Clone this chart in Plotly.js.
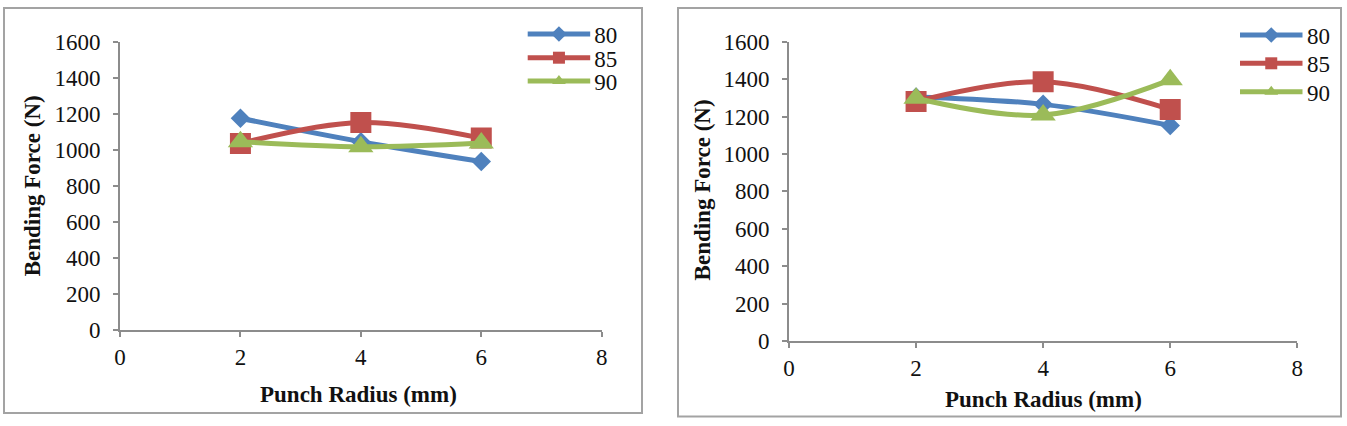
<!DOCTYPE html>
<html>
<head>
<meta charset="utf-8">
<script src="https://cdn.plot.ly/plotly-3.0.1.min.js"></script>
<style>
html, body { margin: 0; padding: 0; background: #ffffff; }
#chart { width: 1347px; height: 426px; }
</style>
</head>
<body>
<div id="chart"></div>
<script>
// ---- data ----
const punchRadius = [2, 4, 6];
const seriesNames = ['80', '85', '90'];
const xTicks = [0, 2, 4, 6, 8];
const yTicks = [0, 200, 400, 600, 800, 1000, 1200, 1400, 1600];
const xTitle = 'Punch Radius (mm)';
const yTitle = 'Bending Force (N)';

const leftForce80 = [1175, 1045, 935];
const leftForce85 = [1035, 1152, 1065];
const leftForce90 = [1045, 1017, 1038];

const rightForce80 = [1305, 1265, 1152];
const rightForce85 = [1280, 1386, 1238];
const rightForce90 = [1298, 1208, 1396];

// ---- styling ----
const W = 1347, H = 426;
const px = x => x / W;
const py = y => (H - y) / H;
const FONT = 'Liberation Serif, Times New Roman, serif';
const colors = ['#4F81BD', '#C0504D', '#9BBB59'];
const symbols = ['diamond', 'square', 'triangle-up'];
const msizes = [15, 21, 22];
const axisGray = '#8c8c8c';
const LEG_LEN = 62.5;

const leftSets = [leftForce80, leftForce85, leftForce90];
const rightSets = [rightForce80, rightForce85, rightForce90];

const data = [];
leftSets.forEach((ys, i) => data.push({
  type: 'scatter', mode: 'lines+markers', name: seriesNames[i],
  x: punchRadius, y: ys, xaxis: 'x', yaxis: 'y', legend: 'legend',
  line: { color: colors[i], width: 5, shape: 'spline', smoothing: 1 },
  marker: { color: colors[i], symbol: symbols[i], size: msizes[i] }
}));
rightSets.forEach((ys, i) => data.push({
  type: 'scatter', mode: 'lines+markers', name: seriesNames[i],
  x: punchRadius, y: ys, xaxis: 'x2', yaxis: 'y2', legend: 'legend2',
  line: { color: colors[i], width: 5, shape: 'spline', smoothing: 1 },
  marker: { color: colors[i], symbol: symbols[i], size: msizes[i] }
}));

function xAxis(domain, anchor) {
  return {
    domain: domain, anchor: anchor, range: [0, 8],
    tickmode: 'array', tickvals: xTicks, ticktext: xTicks.map(String),
    showline: true, linecolor: axisGray, linewidth: 2,
    ticks: 'outside', ticklen: 5, tickwidth: 2, tickcolor: axisGray,
    showgrid: false, zeroline: false, ticklabelstandoff: 0,
    tickfont: { family: FONT, size: 23, color: '#111' }, fixedrange: true
  };
}
function yAxis(domain, anchor) {
  return {
    domain: domain, anchor: anchor, range: [0, 1600],
    tickmode: 'array', tickvals: yTicks, ticktext: yTicks.map(String),
    showline: true, linecolor: axisGray, linewidth: 2,
    ticks: 'outside', ticklen: 5, tickwidth: 2, tickcolor: axisGray,
    showgrid: false, zeroline: false, ticklabelstandoff: 8,
    tickfont: { family: FONT, size: 23, color: '#111' }, fixedrange: true
  };
}

const boxLine = { color: '#a3a3a3', width: 2 };
const titleFont = { family: FONT, size: 23, color: '#111' };
const legFont = { family: FONT, size: 23, color: '#111' };

const layout = {
  width: W, height: H,
  margin: { l: 0, r: 0, t: 0, b: 0 },
  paper_bgcolor: '#ffffff', plot_bgcolor: 'rgba(0,0,0,0)',
  showlegend: true,
  font: { family: FONT, color: '#111' },
  xaxis: xAxis([px(120), px(601.7)], 'y'),
  yaxis: yAxis([py(330), py(41.7)], 'x'),
  xaxis2: xAxis([px(789), px(1297.3)], 'y2'),
  yaxis2: yAxis([py(341), py(41.7)], 'x2'),
  legend: { x: px(527), y: py(18), xanchor: 'left', yanchor: 'top', itemsizing: 'constant',
            itemwidth: 57, bgcolor: 'rgba(0,0,0,0)', font: legFont },
  legend2: { x: px(1239), y: py(18), xanchor: 'left', yanchor: 'top', itemsizing: 'constant',
             itemwidth: 57, bgcolor: 'rgba(0,0,0,0)', font: legFont },
  shapes: [
    { type: 'rect', xref: 'paper', yref: 'paper', x0: px(4), x1: px(642), y0: py(413), y1: py(8), line: boxLine, layer: 'below' },
    { type: 'rect', xref: 'paper', yref: 'paper', x0: px(678), x1: px(1341), y0: py(416.5), y1: py(8), line: boxLine, layer: 'below' }
  ],
  annotations: [
    { text: '<b>' + yTitle + '</b>', xref: 'paper', yref: 'paper', x: px(32.3), y: py(186), textangle: -90, showarrow: false, xanchor: 'center', yanchor: 'middle', font: titleFont },
    { text: '<b>' + yTitle + '</b>', xref: 'paper', yref: 'paper', x: px(702.4), y: py(190), textangle: -90, showarrow: false, xanchor: 'center', yanchor: 'middle', font: titleFont },
    { text: '<b>' + xTitle + '</b>', xref: 'paper', yref: 'paper', x: px(358.6), y: py(394), showarrow: false, xanchor: 'center', yanchor: 'middle', font: titleFont },
    { text: '<b>' + xTitle + '</b>', xref: 'paper', yref: 'paper', x: px(1043.5), y: py(399), showarrow: false, xanchor: 'center', yanchor: 'middle', font: titleFont }
  ]
};

const gd = document.getElementById('chart');

function fixLegend(id, lineX, rows, len) {
  const lg = gd.querySelector('g.' + id);
  if (!lg) return;
  const sb = lg.querySelector('.scrollbox');
  if (sb) sb.removeAttribute('clip-path');
  lg.removeAttribute('clip-path');
  const items = lg.querySelectorAll('g.traces');
  items.forEach((it, i) => {
    if (i >= rows.length) return;
    const m = it.getCTM();
    const tr = it.getAttribute('transform') || '';
    const mm = /translate\(\s*([-\d.e]+)[ ,]+([-\d.e]+)\s*\)/.exec(tr);
    const a = mm ? +mm[1] : 0, b = mm ? +mm[2] : 0;
    it.setAttribute('transform', 'translate(' + (a + lineX - m.e) + ',' + (b + rows[i] - m.f) + ')');
    it.querySelectorAll('.legendlines path').forEach(p => p.setAttribute('d', 'M0,0h' + len));
    it.querySelectorAll('path.scatterpts').forEach(p => p.setAttribute('transform', 'translate(' + (len / 2) + ',0)'));
    const t = it.querySelector('text.legendtext');
    if (t) {
      t.setAttribute('x', len + 4);
      t.setAttribute('text-anchor', 'start');
      t.style.textAnchor = 'start';
    }
  });
}

function fixAll() {
  try {
    fixLegend('legend', 527.7, [34, 57.7, 81], LEG_LEN);
    fixLegend('legend2', 1240, [35, 63.3, 91.7], LEG_LEN);
  } catch (e) { console.error(e); }
}

Plotly.newPlot(gd, data, layout, { staticPlot: true, displayModeBar: false }).then(() => {
  fixAll();
  gd.on && gd.on('plotly_afterplot', fixAll);
  setTimeout(fixAll, 50);
  setTimeout(fixAll, 300);
});
</script>
</body>
</html>
